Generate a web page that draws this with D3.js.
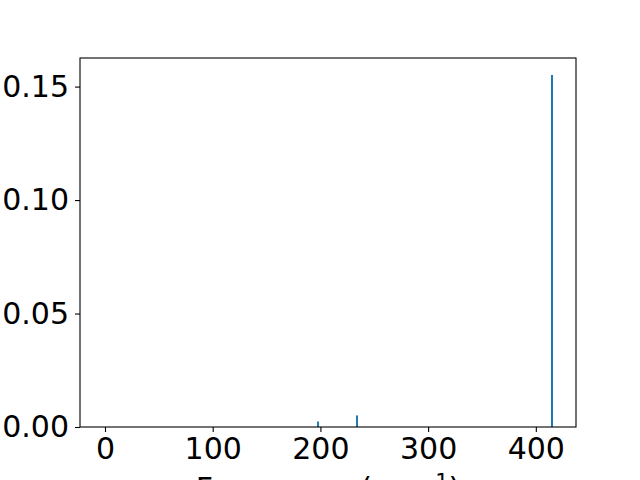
<!DOCTYPE html>
<html>
<head>
<meta charset="utf-8">
<script src="https://cdn.jsdelivr.net/npm/d3@7"></script>
<style>
  html, body { margin: 0; padding: 0; background: #fff; }
  svg { display: block; font-family: "DejaVu Sans", sans-serif; }
</style>
</head>
<body>
<svg id="chart" width="640" height="480"></svg>
<script>
// stick spectrum: frequency (cm-1) vs intensity
const frequencies = [197.8, 234, 415];
const intensities = [0.0024, 0.0051, 0.1551];
const xTicks = [0, 100, 200, 300, 400];
const yTicks = [0, 0.05, 0.10, 0.15];

const margin = { top: 58, right: 64, bottom: 53, left: 80 };
const width = 640 - margin.left - margin.right;
const height = 480 - margin.top - margin.bottom;

const svg = d3.select('#chart');
svg.append('rect').attr('width', 640).attr('height', 480).attr('fill', '#fff');

const g = svg.append('g').attr('transform', `translate(${margin.left},${margin.top})`);

const x = d3.scaleLinear().domain([-23.2, 437.3]).range([0, width]);
const y = d3.scaleLinear().domain([0, 0.1626]).range([height, 0]);

// sticks
g.selectAll('line.stick')
  .data(frequencies.map((f, i) => ({ f, v: intensities[i] })))
  .join('line')
  .attr('class', 'stick')
  .attr('x1', (d) => x(d.f))
  .attr('x2', (d) => x(d.f))
  .attr('y1', y(0))
  .attr('y2', (d) => y(d.v))
  .attr('stroke', '#1f77b4')
  .attr('stroke-width', 2);

// axes
const xAxis = d3.axisBottom(x).tickValues(xTicks).tickFormat(d3.format('d'))
  .tickSize(5).tickPadding(6);
const yAxis = d3.axisLeft(y).tickValues(yTicks).tickFormat(d3.format('.2f'))
  .tickSize(5).tickPadding(6);

const gx = g.append('g').attr('transform', `translate(0,${height})`).call(xAxis);
const gy = g.append('g').call(yAxis);

[gx, gy].forEach((ax) => {
  ax.select('.domain').remove();
  ax.selectAll('.tick line').attr('stroke', '#000').attr('stroke-width', 1.1);
  ax.selectAll('.tick text')
    .attr('fill', '#000')
    .style('font-family', '"DejaVu Sans", sans-serif')
    .style('font-size', '30px');
});

// spines
g.append('rect')
  .attr('x', 0).attr('y', 0)
  .attr('width', width).attr('height', height)
  .attr('fill', 'none')
  .attr('stroke', '#000')
  .attr('stroke-width', 1.1);

// x label, cut off at bottom like the original
const xl = g.append('text')
  .attr('x', width / 2)
  .attr('y', height + 72)
  .attr('text-anchor', 'middle')
  .attr('fill', '#000')
  .style('font-size', '30px');
xl.append('tspan').text('Frequency (cm');
xl.append('tspan').attr('dy', -10).style('font-size', '21px').text('\u22121');
xl.append('tspan').attr('dy', 10).text(')');
</script>
</body>
</html>
